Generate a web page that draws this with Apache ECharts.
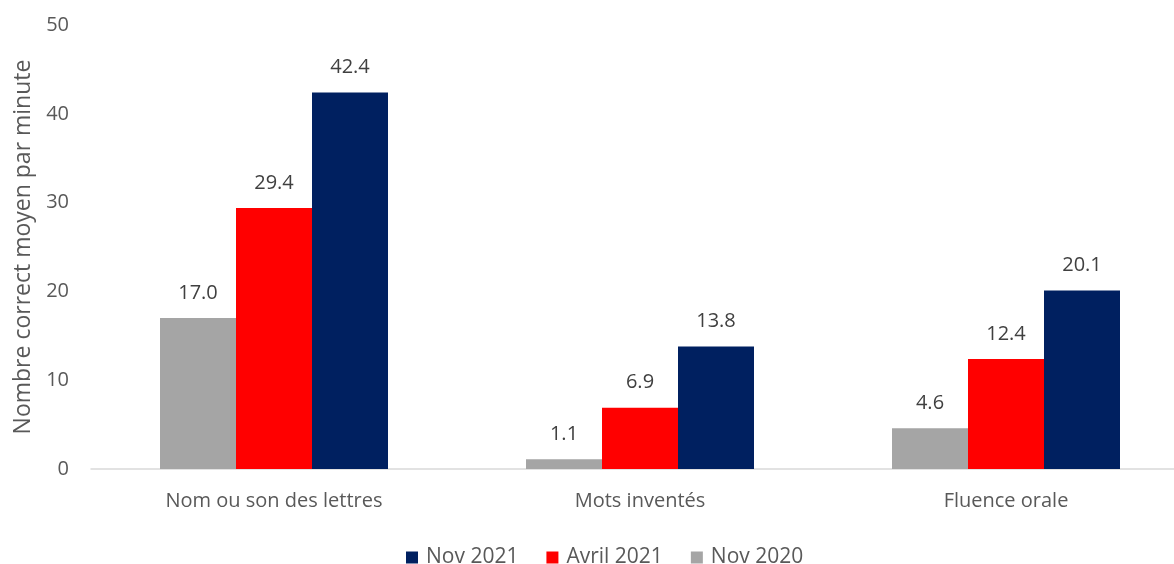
<!DOCTYPE html>
<html><head><meta charset="utf-8">
<script src="https://cdn.jsdelivr.net/npm/echarts@6/dist/echarts.min.js"></script>
<style>html,body{margin:0;padding:0;background:#fff}#c{width:1174px;height:564px}</style>
</head><body><div id="c"></div>
<script>
const categories = ['Nom ou son des lettres', 'Mots inventés', 'Fluence orale'];
const nov2020 = [17.0, 1.1, 4.6];
const avril2021 = [29.4, 6.9, 12.4];
const nov2021 = [42.4, 13.8, 20.1];
const yTicks = [0, 10, 20, 30, 40, 50];

const font = 'Open Sans';
const chart = echarts.init(document.getElementById('c'));
function bar(name, data, color) {
  return {
    name, type: 'bar', data, barWidth: 76, barGap: '0%',
    itemStyle: { color },
    label: { show: true, position: 'top', distance: 15, formatter: p => p.value.toFixed(1),
      color: '#404040', fontSize: 20, fontFamily: font }
  };
}
chart.setOption({
  animation: false,
  grid: { left: 91, top: 25, width: 1098, height: 444, outerBoundsMode: 'none', containLabel: false },
  legend: {
    top: 542, left: 401, itemWidth: 12, itemHeight: 12, itemGap: 28, icon: 'rect',
    data: ['Nov 2021', 'Avril 2021', 'Nov 2020'],
    textStyle: { color: '#595959', fontSize: 21, fontFamily: font, padding: [0, 0, 0, 3] }
  },
  xAxis: {
    type: 'category', data: categories,
    axisLine: { lineStyle: { color: '#D9D9D9', width: 1.5 } },
    axisTick: { show: false },
    axisLabel: { color: '#595959', fontSize: 20, fontFamily: font, margin: 22 }
  },
  yAxis: {
    type: 'value', min: yTicks[0], max: yTicks[yTicks.length - 1], interval: 10,
    name: 'Nombre correct moyen par minute', nameLocation: 'middle', nameGap: 56,
    nameTextStyle: { color: '#595959', fontSize: 23, fontFamily: font },
    axisLine: { show: false }, axisTick: { show: false }, splitLine: { show: false },
    axisLabel: { color: '#595959', fontSize: 20, fontFamily: font, margin: 22 }
  },
  series: [
    bar('Nov 2020', nov2020, '#A5A5A5'),
    bar('Avril 2021', avril2021, '#FF0000'),
    bar('Nov 2021', nov2021, '#002060')
  ]
});
</script></body></html>
